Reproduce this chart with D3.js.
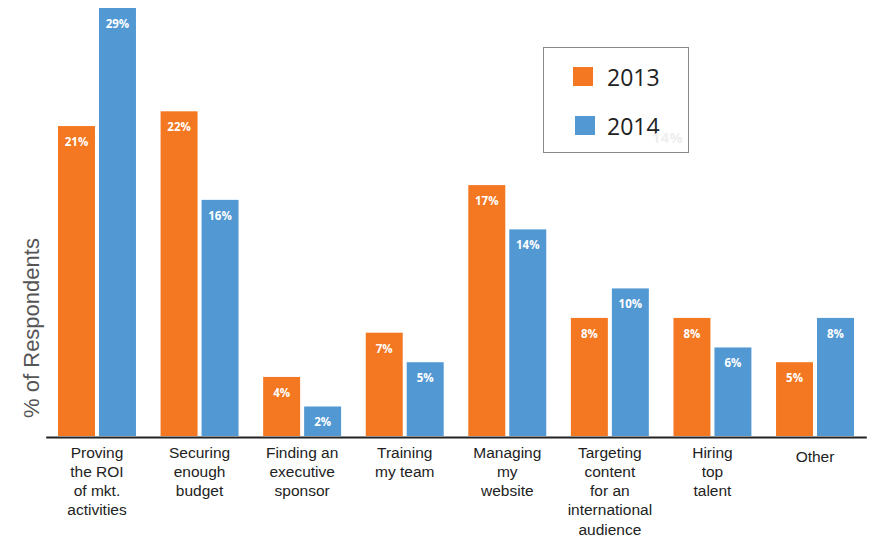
<!DOCTYPE html>
<html>
<head>
<meta charset="utf-8">
<script src="https://cdn.jsdelivr.net/npm/d3@7"></script>
<style>
  html, body { margin: 0; padding: 0; background: #fff; }
  svg { display: block; }
</style>
</head>
<body>
<svg id="chart" width="869" height="536"></svg>
<script>
// Survey: biggest marketing challenges, share of respondents by year
const categories = [
  ["Proving", "the ROI", "of mkt.", "activities"],
  ["Securing", "enough", "budget"],
  ["Finding an", "executive", "sponsor"],
  ["Training", "my team"],
  ["Managing", "my", "website"],
  ["Targeting", "content", "for an", "international", "audience"],
  ["Hiring", "top", "talent"],
  ["Other"]
];
const years = ["2013", "2014"];
const values2013 = [21, 22, 4, 7, 17, 8, 8, 5];
const values2014 = [29, 16, 2, 5, 14, 10, 6, 8];
const colors = { "2013": "#F47721", "2014": "#5298D3" };

const svg = d3.select("#chart");
const baseY = 436;

const x0 = d3.scaleBand()
  .domain(d3.range(categories.length))
  .range([45.7, 866.3])
  .paddingInner(0.24)
  .paddingOuter(0.12);

const x1 = d3.scaleBand()
  .domain(years)
  .range([0, x0.bandwidth()])
  .paddingInner(4 / 41);

const y = d3.scaleLinear().domain([0, 29]).range([baseY, 8]);

const rows = categories.map((c, i) => ({
  i,
  bars: [
    { year: "2013", v: values2013[i] },
    { year: "2014", v: values2014[i] }
  ]
}));

const groups = svg.append("g").selectAll("g")
  .data(rows).join("g")
  .attr("transform", d => `translate(${x0(d.i)},0)`);

groups.selectAll("rect")
  .data(d => d.bars).join("rect")
  .attr("x", d => x1(d.year))
  .attr("y", d => y(d.v))
  .attr("width", x1.bandwidth())
  .attr("height", d => baseY - y(d.v))
  .attr("fill", d => colors[d.year]);

groups.selectAll("text.val")
  .data(d => d.bars).join("text")
  .attr("class", "val")
  .attr("x", d => x1(d.year) + x1.bandwidth() / 2)
  .attr("y", d => y(d.v) + 20)
  .attr("text-anchor", "middle")
  .attr("fill", "#fff")
  .attr("font-family", "'Open Sans', sans-serif")
  .attr("font-weight", 700)
  .attr("font-size", 11.5)
  .text(d => d.v + "%");

// baseline axis
const xAxis = d3.axisBottom(x0).tickSize(0).tickFormat("");
const axisG = svg.append("g")
  .attr("transform", `translate(0,${baseY + 1})`)
  .call(xAxis);
axisG.select(".domain").attr("stroke", "#222").attr("stroke-width", 2);

// multi-line category labels
const labelG = svg.append("g")
  .attr("font-family", "'Liberation Sans', Arial, sans-serif")
  .attr("font-size", 15.5)
  .attr("fill", "#222")
  .attr("text-anchor", "middle");

categories.forEach((lines, i) => {
  const cx = x0(i) + x0.bandwidth() / 2;
  const t = labelG.append("text")
    .attr("x", cx)
    .attr("y", lines.length === 1 ? 461.5 : 457.5);
  lines.forEach((ln, k) => {
    t.append("tspan")
      .attr("x", cx)
      .attr("dy", k === 0 ? 0 : 19.3)
      .text(ln);
  });
});

// y axis title
svg.append("text")
  .attr("transform", "translate(39,328) rotate(-90)")
  .attr("text-anchor", "middle")
  .attr("font-family", "'Liberation Sans', Arial, sans-serif")
  .attr("font-size", 22)
  .attr("fill", "#555")
  .text("% of Respondents");

// legend
const legend = svg.append("g");
legend.append("rect")
  .attr("x", 543.5).attr("y", 47.5)
  .attr("width", 145).attr("height", 105)
  .attr("fill", "#fff")
  .attr("stroke", "#8a8a8a")
  .attr("stroke-width", 1);

const legendItems = [
  { year: "2013", sx: 573, sy: 67, ty: 86 },
  { year: "2014", sx: 575, sy: 116, ty: 135 }
];
legendItems.forEach(it => {
  legend.append("rect")
    .attr("x", it.sx).attr("y", it.sy)
    .attr("width", 20).attr("height", 19)
    .attr("fill", colors[it.year]);
  legend.append("text")
    .attr("x", 607).attr("y", it.ty)
    .attr("font-family", "'Open Sans', sans-serif")
    .attr("font-size", 23)
    .attr("fill", "#222")
    .text(it.year);
});

// faint stray label showing through the legend
svg.append("text")
  .attr("x", 652).attr("y", 143)
  .attr("font-family", "'Open Sans', sans-serif")
  .attr("font-weight", 700)
  .attr("font-size", 15)
  .attr("fill", "#efefef")
  .text("14%");
</script>
</body>
</html>
